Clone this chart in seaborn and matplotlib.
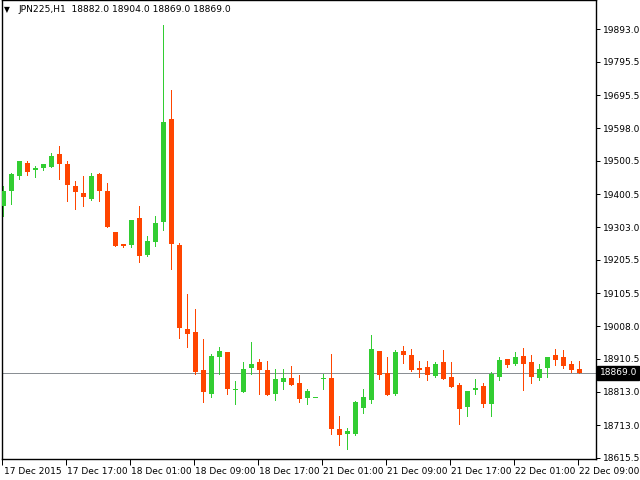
import numpy as np
import pandas as pd
import matplotlib
matplotlib.use("Agg")
import matplotlib.pyplot as plt
import seaborn as sns
from matplotlib.transforms import ScaledTranslation, blended_transform_factory

# ---- data (hourly JPN225 candles, 17 Dec 09:00 .. 22 Dec 09:00) ----
opens = [19366.8, 19411.5, 19456.2, 19494.0, 19473.1, 19479.1, 19482.1, 19520.8, 19491.0, 19425.5,
         19404.6, 19386.8, 19461.2, 19410.6, 19288.5, 19252.8, 19249.8, 19330.2, 19220.1, 19258.8,
         19319.2, 19625.0, 19249.8, 19000.0, 18990.7, 18877.5, 18807.0, 18917.2, 18931.2, 18818.9,
         18812.9, 18884.4, 18901.4, 18877.5, 18807.0, 18842.7, 18853.7, 18838.8, 18795.1, 18793.0,
         18850.7, 18853.7, 18701.8, 18687.9, 18687.9, 18765.3, 18789.1, 18934.1, 18868.6, 18807.0,
         18934.1, 18922.2, 18883.5, 18886.5, 18859.7, 18901.4, 18856.7, 18832.9, 18768.3, 18818.9,
         18829.9, 18777.2, 18857.6, 18910.3, 18896.3, 18919.2, 18901.4, 18854.6, 18884.4, 18922.2,
         18916.3, 18895.4, 18882.0]
highs = [19425.5, 19465.1, 19501.0, 19501.0, 19485.0, 19491.0, 19523.8, 19544.6, 19499.9, 19440.4,
         19455.3, 19464.2, 19464.2, 19434.4, 19288.5, 19252.8, 19324.2, 19366.0, 19276.6, 19336.2,
         19905.0, 19711.4, 19255.8, 19103.9, 19059.2, 18969.9, 18925.2, 18946.2, 18931.2, 18844.8,
         18901.4, 18961.0, 18910.3, 18904.4, 18880.5, 18880.5, 18889.5, 18862.6, 18821.0, 18794.0,
         18865.6, 18925.2, 18740.6, 18704.8, 18785.2, 18821.0, 18981.8, 18934.1, 18916.3, 18937.1,
         18949.1, 18940.1, 18904.4, 18904.4, 18901.4, 18937.1, 18901.4, 18838.8, 18815.0, 18850.7,
         18838.8, 18871.6, 18916.3, 18910.3, 18931.2, 18943.1, 18922.2, 18895.4, 18916.3, 18940.1,
         18937.1, 18904.4, 18904.0]
lows = [19337.1, 19371.9, 19446.3, 19458.2, 19452.3, 19473.1, 19482.1, 19446.3, 19380.8, 19357.0,
        19366.0, 19383.8, 19380.8, 19303.4, 19246.8, 19243.8, 19243.8, 19199.2, 19217.2, 19246.8,
        19294.5, 19178.3, 18973.7, 18946.9, 18866.5, 18783.2, 18798.0, 18866.5, 18807.0, 18777.0,
        18812.9, 18866.5, 18807.0, 18804.0, 18789.1, 18821.9, 18833.8, 18783.2, 18777.0, 18793.0,
        18821.9, 18687.9, 18655.1, 18643.2, 18684.9, 18750.4, 18780.2, 18851.6, 18804.0, 18804.0,
        18899.3, 18873.6, 18857.6, 18848.6, 18856.7, 18851.6, 18827.8, 18717.6, 18741.6, 18807.0,
        18768.3, 18741.6, 18848.6, 18887.4, 18893.3, 18818.0, 18839.7, 18848.6, 18857.6, 18892.4,
        18883.5, 18871.6, 18869.0]
closes = [19410.6, 19461.2, 19499.9, 19468.1, 19479.1, 19491.0, 19514.8, 19491.9, 19429.4, 19407.6,
          19392.7, 19455.3, 19410.6, 19303.4, 19246.8, 19246.8, 19324.2, 19217.2, 19261.7, 19315.3,
          19616.1, 19252.8, 19003.5, 18985.6, 18872.5, 18812.9, 18919.2, 18934.3, 18821.9, 18821.9,
          18880.5, 18895.4, 18878.4, 18804.0, 18850.7, 18853.7, 18833.8, 18792.1, 18815.0, 18794.0,
          18853.7, 18702.7, 18684.9, 18695.9, 18782.2, 18797.1, 18940.1, 18863.6, 18804.0, 18931.2,
          18923.1, 18878.4, 18878.4, 18863.6, 18895.4, 18851.6, 18827.8, 18762.3, 18815.0, 18824.0,
          18777.2, 18865.6, 18907.3, 18893.3, 18916.3, 18896.3, 18857.6, 18880.5, 18916.3, 18907.3,
          18889.5, 18877.5, 18869.0]

time_labels = ["17 Dec 2015", "17 Dec 17:00", "18 Dec 01:00", "18 Dec 09:00", "18 Dec 17:00",
               "21 Dec 01:00", "21 Dec 09:00", "21 Dec 17:00", "22 Dec 01:00", "22 Dec 09:00"]
time_label_bars = [0, 8, 16, 24, 32, 40, 48, 56, 64, 72]
price_ticks = [19893.0, 19795.5, 19695.5, 19598.0, 19500.5, 19400.5, 19303.0,
               19205.5, 19105.5, 19008.0, 18910.5, 18813.0, 18713.0, 18615.5]
symbol = "JPN225,H1"
last_price = 18869.0

BULL = "#32CD32"
BEAR = "#FF4500"
PX = 0.72  # one pixel in points at 100 dpi

# ---- style ----
sns.set_theme(style="white")
plt.rcParams["font.family"] = ["DejaVu Sans"]

df = pd.DataFrame({"bar": np.arange(len(opens)), "open": opens, "high": highs,
                   "low": lows, "close": closes})
df["bull"] = df["close"] >= df["open"]
df["color"] = np.where(df["bull"], BULL, BEAR)
df["body_lo"] = df[["open", "close"]].min(axis=1)
df["body_h"] = (df["close"] - df["open"]).abs().clip(lower=3.0)

fig = plt.figure(figsize=(6.4, 4.8), dpi=100)
ax = fig.add_axes([2 / 640, 21 / 480, 594 / 640, 459 / 480])
ax.set_facecolor("white")

# current price line (behind candles)
ax.axhline(last_price, color="#8a8f94", lw=PX, zorder=1, antialiased=False)

# wicks and bodies
ax.vlines(df["bar"], df["low"], df["high"], colors=df["color"], lw=PX, zorder=2,
          antialiased=False)
ax.bar(df["bar"], df["body_h"], bottom=df["body_lo"], width=0.625,
       color=df["color"], lw=0, zorder=3, antialiased=False)

ax.set_xlim(-0.125, 74.125)
ax.set_ylim(18612.5, 19979.4)

# y axis on the right
ax.yaxis.tick_right()
ax.set_yticks(price_ticks)
ax.set_yticklabels([f"{v:.1f}" for v in price_ticks])
ax.tick_params(axis="y", which="major", direction="out", length=3, width=PX,
               pad=2, labelsize=6.5, colors="black", left=False, right=True)

# x axis
ax.set_xticks([b - 0.15 for b in time_label_bars])
ax.set_xticklabels(time_labels)
ax.tick_params(axis="x", which="major", direction="out", length=4, width=PX,
               pad=1.5, labelsize=6.5, colors="black", bottom=True)
offset = ScaledTranslation(1.5 / 100, 0, fig.dpi_scale_trans)
for lab in ax.get_xticklabels():
    lab.set_ha("left")
    lab.set_transform(lab.get_transform() + offset)

ax.set_xlabel("")
ax.set_ylabel("")
ax.grid(False)
for s in ax.spines.values():
    s.set_color("black")
    s.set_linewidth(1.0)
    s.set_visible(True)

# current price label box on the right axis
trans = blended_transform_factory(ax.transAxes, ax.transData)
ax.text(1.006, last_price, f"{last_price:.1f}", transform=trans, ha="left", va="center",
        fontsize=6.5, color="white", clip_on=False, zorder=5,
        bbox=dict(boxstyle="square,pad=0.25", fc="black", ec="black"))

# header
fig.text(4 / 640, 1 - 10 / 480, "\u25BC", fontsize=5.5, color="black", va="center", ha="left")
fig.text(18 / 640, 1 - 10 / 480,
         f"{symbol}  {opens[-1]:.1f} {highs[-1]:.1f} {lows[-1]:.1f} {closes[-1]:.1f}",
         fontsize=6.6, color="black", va="center", ha="left")

fig.savefig("out.png", dpi=100, facecolor="white")
